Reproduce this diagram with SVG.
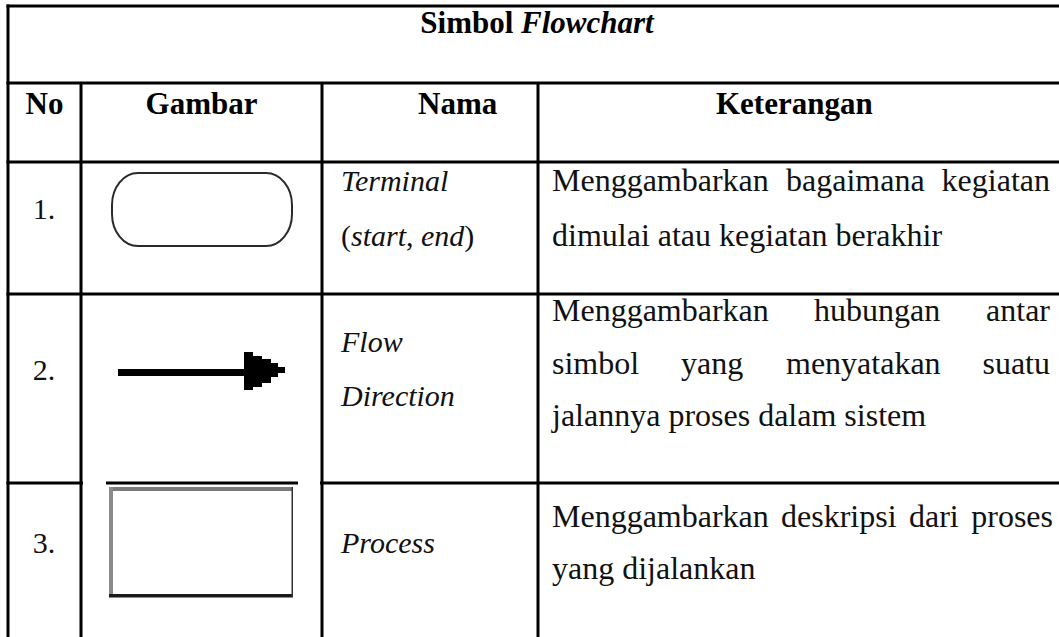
<svg xmlns="http://www.w3.org/2000/svg" width="1059" height="637" viewBox="0 0 1059 637">
  <style>
    .grid line { stroke: #000; stroke-width: 3; }
    .hd { font-family: "Liberation Serif", "Times New Roman", serif; font-size: 31px; font-weight: bold; fill: #000; }
    .num { font-family: "Liberation Serif", "Times New Roman", serif; font-size: 30px; fill: #111; text-anchor: middle; }
    .nm { font-family: "Liberation Serif", "Times New Roman", serif; font-size: 30px; font-style: italic; fill: #111; }
    .tx { font-family: "Liberation Serif", "Times New Roman", serif; font-size: 32px; fill: #111; }
    .end { text-anchor: end; }
  </style>
  <rect width="1059" height="637" fill="#fff"/>

  <!-- table rules -->
  <g id="grid" class="grid">
    <line x1="6.5" y1="6" x2="1059" y2="6"/>
    <line x1="6.5" y1="83" x2="1059" y2="83"/>
    <line x1="6.5" y1="162" x2="1059" y2="162"/>
    <line x1="6.5" y1="294" x2="1059" y2="294"/>
    <line x1="6.5" y1="483" x2="1059" y2="483"/>
    <line x1="8" y1="4.5" x2="8" y2="637"/>
    <line x1="81" y1="83" x2="81" y2="637"/>
    <line x1="322" y1="83" x2="322" y2="637"/>
    <line x1="538" y1="83" x2="538" y2="637"/>
    <!-- gaps where the process symbol's white margin sits over the rule -->
    <rect x="83" y="481" width="23" height="4" fill="#fff"/>
    <rect x="298" y="481" width="22" height="4" fill="#fff"/>
    <line x1="106" y1="483" x2="298" y2="483" style="stroke-width:2"/>
  </g>

  <g id="title">
    <text class="hd" x="537" y="33" text-anchor="middle">Simbol <tspan font-style="italic">Flowchart</tspan></text>
  </g>

  <g id="header">
    <text class="hd" x="44.5" y="114" text-anchor="middle">No</text>
    <text class="hd" x="201.5" y="114" text-anchor="middle">Gambar</text>
    <text class="hd" x="418" y="114">Nama</text>
    <text class="hd" x="716" y="114">Keterangan</text>
  </g>

  <!-- row 1: terminal -->
  <g id="row-terminal">
    <text class="num" x="44" y="219">1.</text>
    <rect x="112" y="173" width="180" height="73" rx="26" ry="32" fill="#fff" stroke="#2a2a2a" stroke-width="2"/>
    <text class="nm" x="341" y="191">Terminal</text>
    <text class="nm" x="341" y="246"><tspan font-style="normal">(</tspan>start<tspan font-style="normal">, </tspan>end<tspan font-style="normal">)</tspan></text>
    <text class="tx" y="191"><tspan x="552">Menggambarkan</tspan><tspan x="786">bagaimana</tspan></text>
    <text class="tx end" x="1050" y="191">kegiatan</text>
    <text class="tx" x="552" y="246">dimulai atau kegiatan berakhir</text>
  </g>

  <!-- row 2: flow direction -->
  <g id="row-flow">
    <text class="num" x="44" y="380">2.</text>
    <g id="flow-arrow" fill="#000">
      <rect x="118" y="369" width="128" height="7"/>
      <path d="M244 352 H253 V356 H262 V359 H271 V363 H278 V367 H285 V373 H278 V377 H271 V383 H262 V387 H253 V390 H244 Z"/>
    </g>
    <text class="nm" x="341" y="352">Flow</text>
    <text class="nm" x="341" y="406">Direction</text>
    <text class="tx" y="321"><tspan x="552">Menggambarkan</tspan><tspan x="814">hubungan</tspan></text>
    <text class="tx end" x="1050" y="321">antar</text>
    <text class="tx" y="374"><tspan x="552">simbol</tspan><tspan x="681">yang</tspan><tspan x="786">menyatakan</tspan></text>
    <text class="tx end" x="1050" y="374">suatu</text>
    <text class="tx" x="552" y="426">jalannya proses dalam sistem</text>
  </g>

  <!-- row 3: process -->
  <g id="row-process">
    <text class="num" x="44" y="553">3.</text>
    <g id="process-box">
      <rect x="110" y="488" width="183" height="109" fill="#fff"/>
      <rect x="110" y="487" width="183" height="4" fill="#7a7a7a"/>
      <rect x="109" y="487" width="4" height="110" fill="#8a8a8a"/>
      <rect x="109" y="594" width="184" height="3.5" fill="#1a1a1a"/>
      <rect x="291.5" y="487" width="1.5" height="110" fill="#333"/>
    </g>
    <text class="nm" x="341" y="553">Process</text>
    <text class="tx" y="527"><tspan x="552">Menggambarkan</tspan><tspan x="781">deskripsi</tspan><tspan x="909">dari</tspan></text>
    <text class="tx end" x="1053" y="527">proses</text>
    <text class="tx" x="552" y="579">yang dijalankan</text>
  </g>
</svg>
